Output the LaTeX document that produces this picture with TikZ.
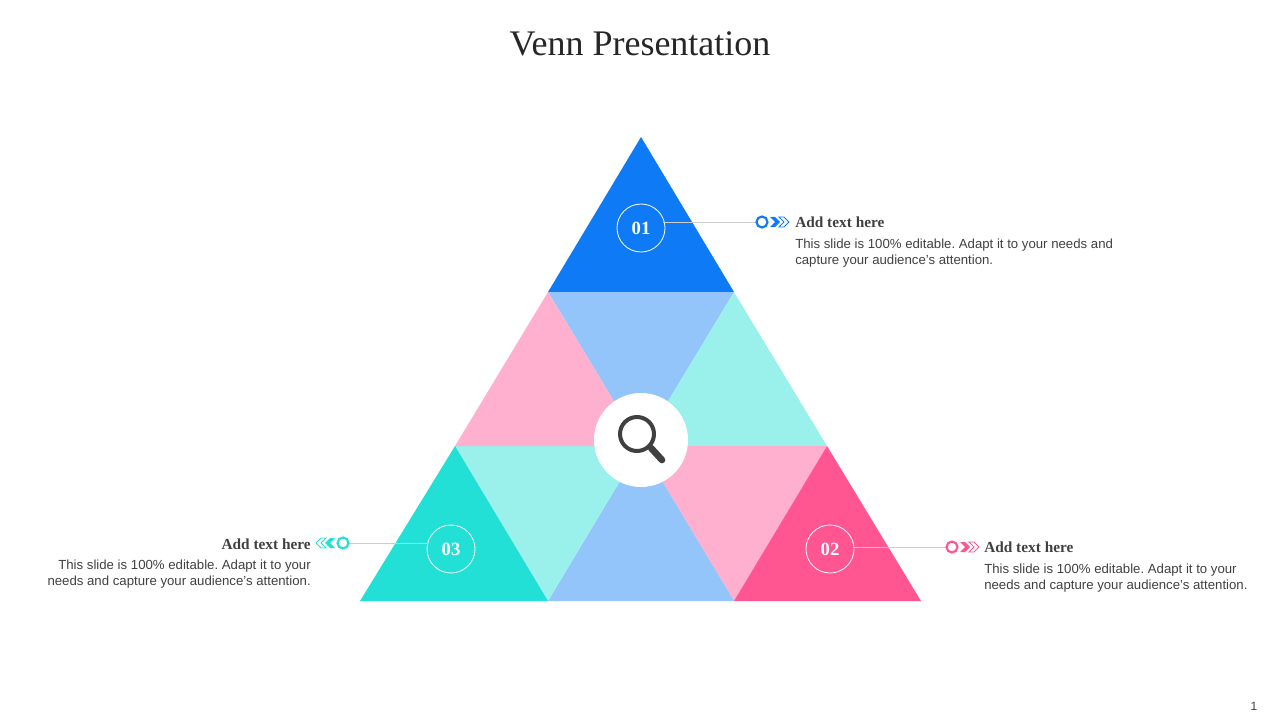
\documentclass[tikz,border=0pt]{standalone}
\usepackage{fontspec}
\setmainfont{Liberation Serif}
\newfontfamily\bodyfont{Liberation Sans}
\frenchspacing
\definecolor{cblue}{HTML}{0F7AF5}
\definecolor{clblue}{HTML}{93C5FA}
\definecolor{cmint}{HTML}{9AF0EA}
\definecolor{clpink}{HTML}{FFB0CE}
\definecolor{cteal}{HTML}{22E0D6}
\definecolor{cpink}{HTML}{FF5590}
\definecolor{ctext}{HTML}{404040}
\tikzset{
 numc/.style={circle,draw=white,line width=0.6pt,minimum size=48pt*0.75,inner sep=0pt,text=white,font=\fontsize{14}{14}\selectfont\bfseries},
 head/.style={font=\fontsize{11.5}{12}\selectfont\bfseries,text=ctext,inner sep=0pt},
 body/.style={font=\bodyfont\frenchspacing\fontsize{9.9}{12}\selectfont,text=ctext,inner sep=0pt,align=left},
 lead/.style={draw=gray!40,line width=0.5pt},
}
\begin{document}
\begin{tikzpicture}[x=0.75pt,y=-0.75pt]
\useasboundingbox (0,0) rectangle (1280,720);
\node[text=black!85] at (640,44) {\fontsize{27}{30}\selectfont Venn Presentation};
% triangles
\fill[cblue] (548,292)--(641,137)--(734,292)--cycle;
\coordinate (c) at (641,446);
\fill[clblue] (548,292)--(734,292)--(c)--cycle;
\fill[cmint] (734,292)--(827,446)--(c)--cycle;
\fill[clpink] (827,446)--(734,601)--(c)--cycle;
\fill[clblue] (734,601)--(548,601)--(c)--cycle;
\fill[cmint] (548,601)--(455,446)--(c)--cycle;
\fill[clpink] (455,446)--(548,292)--(c)--cycle;
\fill[cteal] (360,601)--(455,446)--(548,601)--cycle;
\fill[cpink] (734,601)--(827,446)--(921,601)--cycle;
% center
\fill[white] (641,440) circle[radius=47];
\draw[color=ctext,line width=3pt] (637,434) circle[radius=17];
\draw[color=ctext,line width=5pt,line cap=round] (651,448)--(662,460);
% numbers
\node[numc] (n1) at (641,228) {01};
\node[numc] (n2) at (830,549) {02};
\node[numc] (n3) at (451,549) {03};
% markers
\coordinate (m1) at (762,222);
\coordinate (m2) at (952,547);
\coordinate (m3) at (343,543);
\draw[lead] (663,222) -- (756,222);
\draw[lead] (854,547) -- (946,547);
\draw[lead] (349,543) -- (428,543);
\draw[cblue,line width=1.6pt] (m1) circle[radius=5.5];
\fill[cblue] (770,217)--(775,217)--(780,222)--(775,227)--(770,227)--(775,222)--cycle;
\draw[cblue,line width=0.6pt] (779,217)--(784,217)--(789,222)--(784,227)--(779,227)--(784,222)--cycle;
\draw[cpink,line width=1.6pt] (m2) circle[radius=5.5];
\fill[cpink] (960,542)--(965,542)--(970,547)--(965,552)--(960,552)--(965,547)--cycle;
\draw[cpink,line width=0.6pt] (969,542)--(974,542)--(979,547)--(974,552)--(969,552)--(974,547)--cycle;
\draw[cteal,line width=1.6pt] (m3) circle[radius=5.5];
\fill[cteal] (335,538)--(330,538)--(325,543)--(330,548)--(335,548)--(330,543)--cycle;
\draw[cteal,line width=0.6pt] (326,538)--(321,538)--(316,543)--(321,548)--(326,548)--(321,543)--cycle;
% texts
\node[head,anchor=west] (h1) at (795,222) {Add text here};
\node[body,anchor=north west] (b1) at (795,239) {This slide is 100\% editable. Adapt it to your needs and\\capture your audience’s attention.};
\node[head,anchor=west] (h2) at (984,547) {Add text here};
\node[body,anchor=north west] (b2) at (984,564) {This slide is 100\% editable. Adapt it to your\\needs and capture your audience’s attention.};
\node[head,anchor=east] (h3) at (311,544) {Add text here};
\node[body,anchor=north east,align=right] (b3) at (311,560) {This slide is 100\% editable. Adapt it to your\\needs and capture your audience’s attention.};
\node[font=\bodyfont\fontsize{9}{10}\selectfont,text=ctext] at (1254,706) {1};
\end{tikzpicture}
\end{document}
